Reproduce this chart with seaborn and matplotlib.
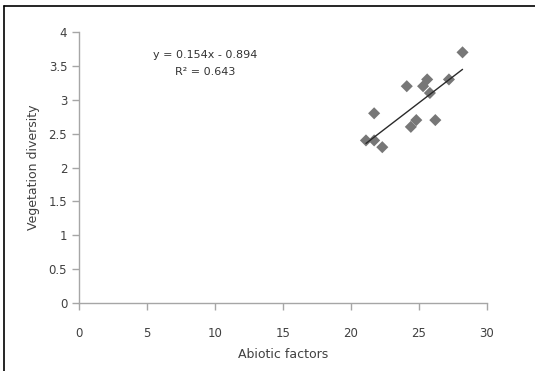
import numpy as np
import pandas as pd
import matplotlib
matplotlib.use('Agg')
import matplotlib.pyplot as plt
import seaborn as sns
from matplotlib.lines import Line2D

# values
abiotic = [28.2, 27.2, 25.6, 25.3, 24.1, 25.8, 21.7, 24.8, 24.4, 26.2, 21.1, 21.7, 22.3]
diversity = [3.7, 3.3, 3.3, 3.2, 3.2, 3.1, 2.8, 2.7, 2.6, 2.7, 2.4, 2.4, 2.3]
slope = 0.154
intercept = -0.894
r2 = 0.643

df = pd.DataFrame({'Abiotic factors': abiotic, 'Vegetation diversity': diversity})

sns.set_style('white')
plt.rcParams['font.family'] = ['DejaVu Sans']

fig = plt.figure(figsize=(5.35, 3.71), dpi=100)
ax = fig.add_axes([0.1477, 0.1833, 0.7626, 0.7304])

sns.scatterplot(data=df, x='Abiotic factors', y='Vegetation diversity', marker='D',
                color='#777777', s=38, edgecolor='none', ax=ax, zorder=3)

# linear trendline over the data range
xs = np.array([min(abiotic), max(abiotic)])
sns.lineplot(x=xs, y=slope * xs + intercept, color='#2a2a2a', linewidth=1, ax=ax, zorder=4)

ax.text(9.3, 3.66, f'y = {slope}x - {abs(intercept)}', ha='center', va='center', fontsize=8, color='#333333')
ax.text(9.3, 3.41, f'R² = {r2}', ha='center', va='center', fontsize=8, color='#333333')

ax.set_xlim(0, 30)
ax.set_ylim(0, 4)
ax.set_xticks(np.arange(0, 31, 5))
ax.set_yticks(np.arange(0, 4.01, 0.5))
ax.set_yticklabels(['0', '0.5', '1', '1.5', '2', '2.5', '3', '3.5', '4'])

for s in ['top', 'right']:
    ax.spines[s].set_visible(False)
for s in ['left', 'bottom']:
    ax.spines[s].set_color('#a6a6a6')
    ax.spines[s].set_linewidth(1)
ax.tick_params(axis='both', direction='out', length=5, width=1, color='#a6a6a6',
               labelsize=8.5, labelcolor='#404040', left=True, bottom=True)
ax.tick_params(axis='x', pad=12)
ax.set_xlabel('Abiotic factors', fontsize=9, color='#404040', labelpad=6)
ax.set_ylabel('Vegetation diversity', fontsize=9, color='#404040', labelpad=6)

# outer frame (cropped at right/bottom)
fig.add_artist(Line2D([4 / 535, 4 / 535], [0, 1 - 6 / 371], color='black', linewidth=1.2))
fig.add_artist(Line2D([4 / 535, 1], [1 - 6 / 371, 1 - 6 / 371], color='black', linewidth=1.2))

plt.savefig('out.png', dpi=100)
